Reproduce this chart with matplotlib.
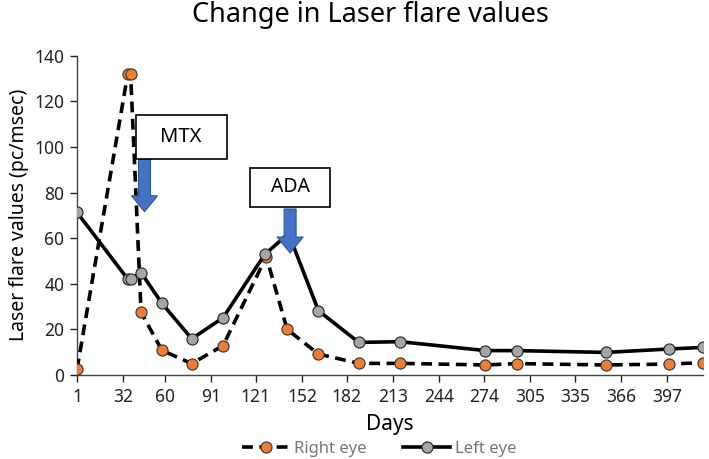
import matplotlib
matplotlib.use("Agg")
import matplotlib.pyplot as plt
from matplotlib.patches import Rectangle

plt.rcParams['font.family'] = ['Noto Sans', 'DejaVu Sans']

# Days after onset and laser flare values (pc/msec)
right_days = [1, 35, 37, 44, 58, 78, 99, 128, 142, 163, 190, 218, 275, 296, 356, 398, 421]
right_vals = [2.5, 131.8, 131.8, 27.5, 10.8, 5.0, 12.9, 51.9, 20.0, 9.2, 5.1, 5.1, 4.4, 5.0, 4.4, 4.8, 5.4]

left_days = [1, 35, 37, 44, 58, 78, 99, 127, 143, 163, 190, 218, 275, 296, 356, 398, 421]
left_vals = [71.3, 42.1, 42.1, 44.9, 31.4, 15.9, 25.1, 52.9, 62.0, 28.2, 14.3, 14.6, 10.7, 10.7, 9.9, 11.4, 12.1]

x_ticks = [1, 32, 60, 91, 121, 152, 182, 213, 244, 274, 305, 335, 366, 397]
y_ticks = [0, 20, 40, 60, 80, 100, 120, 140]

fig = plt.figure(figsize=(7.09, 4.59), dpi=100)
ax = fig.add_axes([0.1086, 0.183, 0.8829, 0.6956])

ax.plot(right_days, right_vals, color='black', lw=2.6, dashes=(3, 1.8),
        marker='o', ms=8, mfc='#ED7D31', mec='#333333', mew=0.8, label='Right eye', zorder=3)
# the peak point of the left eye sits under the ADA arrow
left_marks = [i for i in range(len(left_days)) if i != 8]
ax.plot(left_days, left_vals, color='black', lw=2.6, markevery=left_marks,
        marker='o', ms=8, mfc='#A5A5A5', mec='#222222', mew=0.8, label='Left eye', zorder=4)

# treatment annotations
arrow_kw = dict(width=8, head_width=17.5, head_length=7, length_includes_head=True,
                fc='#4472C4', ec='#2F5597', lw=0.8, zorder=6)
ax.arrow(46.3, 94.7, 0, -23.1, **arrow_kw)
ax.arrow(144.0, 72.8, 0, -19.3, **arrow_kw)

ax.add_patch(Rectangle((40.4, 94.7), 61.0, 19.3, fc='white', ec='black', lw=1.2, zorder=7))
ax.text(70.9, 104.3, 'MTX', ha='center', va='center', fontsize=14.5, zorder=8)
ax.add_patch(Rectangle((117.0, 73.8), 53.8, 17.1, fc='white', ec='black', lw=1.2, zorder=7))
ax.text(143.9, 82.3, 'ADA', ha='center', va='center', fontsize=14, zorder=8)

ax.set_xlim(1, 421)
ax.set_ylim(0, 140)
ax.set_xticks(x_ticks)
ax.set_yticks(y_ticks)
ax.tick_params(labelsize=12.5, length=5, width=1, colors='#222222', pad=4)
for s in ['top', 'right']:
    ax.spines[s].set_visible(False)
for s in ['left', 'bottom']:
    ax.spines[s].set_linewidth(1.0)
    ax.spines[s].set_color('#444444')

ax.set_xlabel('Days', fontsize=15, labelpad=6)
ax.set_ylabel('Laser flare values (pc/msec)', fontsize=14, labelpad=4)
fig.suptitle('Change in Laser flare values', fontsize=19.5, x=0.523, y=0.998)

leg = fig.legend(loc='center', bbox_to_anchor=(0.535, 0.022), ncol=2, frameon=False,
                 fontsize=12, handlelength=2.8, columnspacing=2.2, handletextpad=0.3,
                 borderpad=0.1)
for t in leg.get_texts():
    t.set_color('#777777')

fig.savefig('out.png', dpi=100)
